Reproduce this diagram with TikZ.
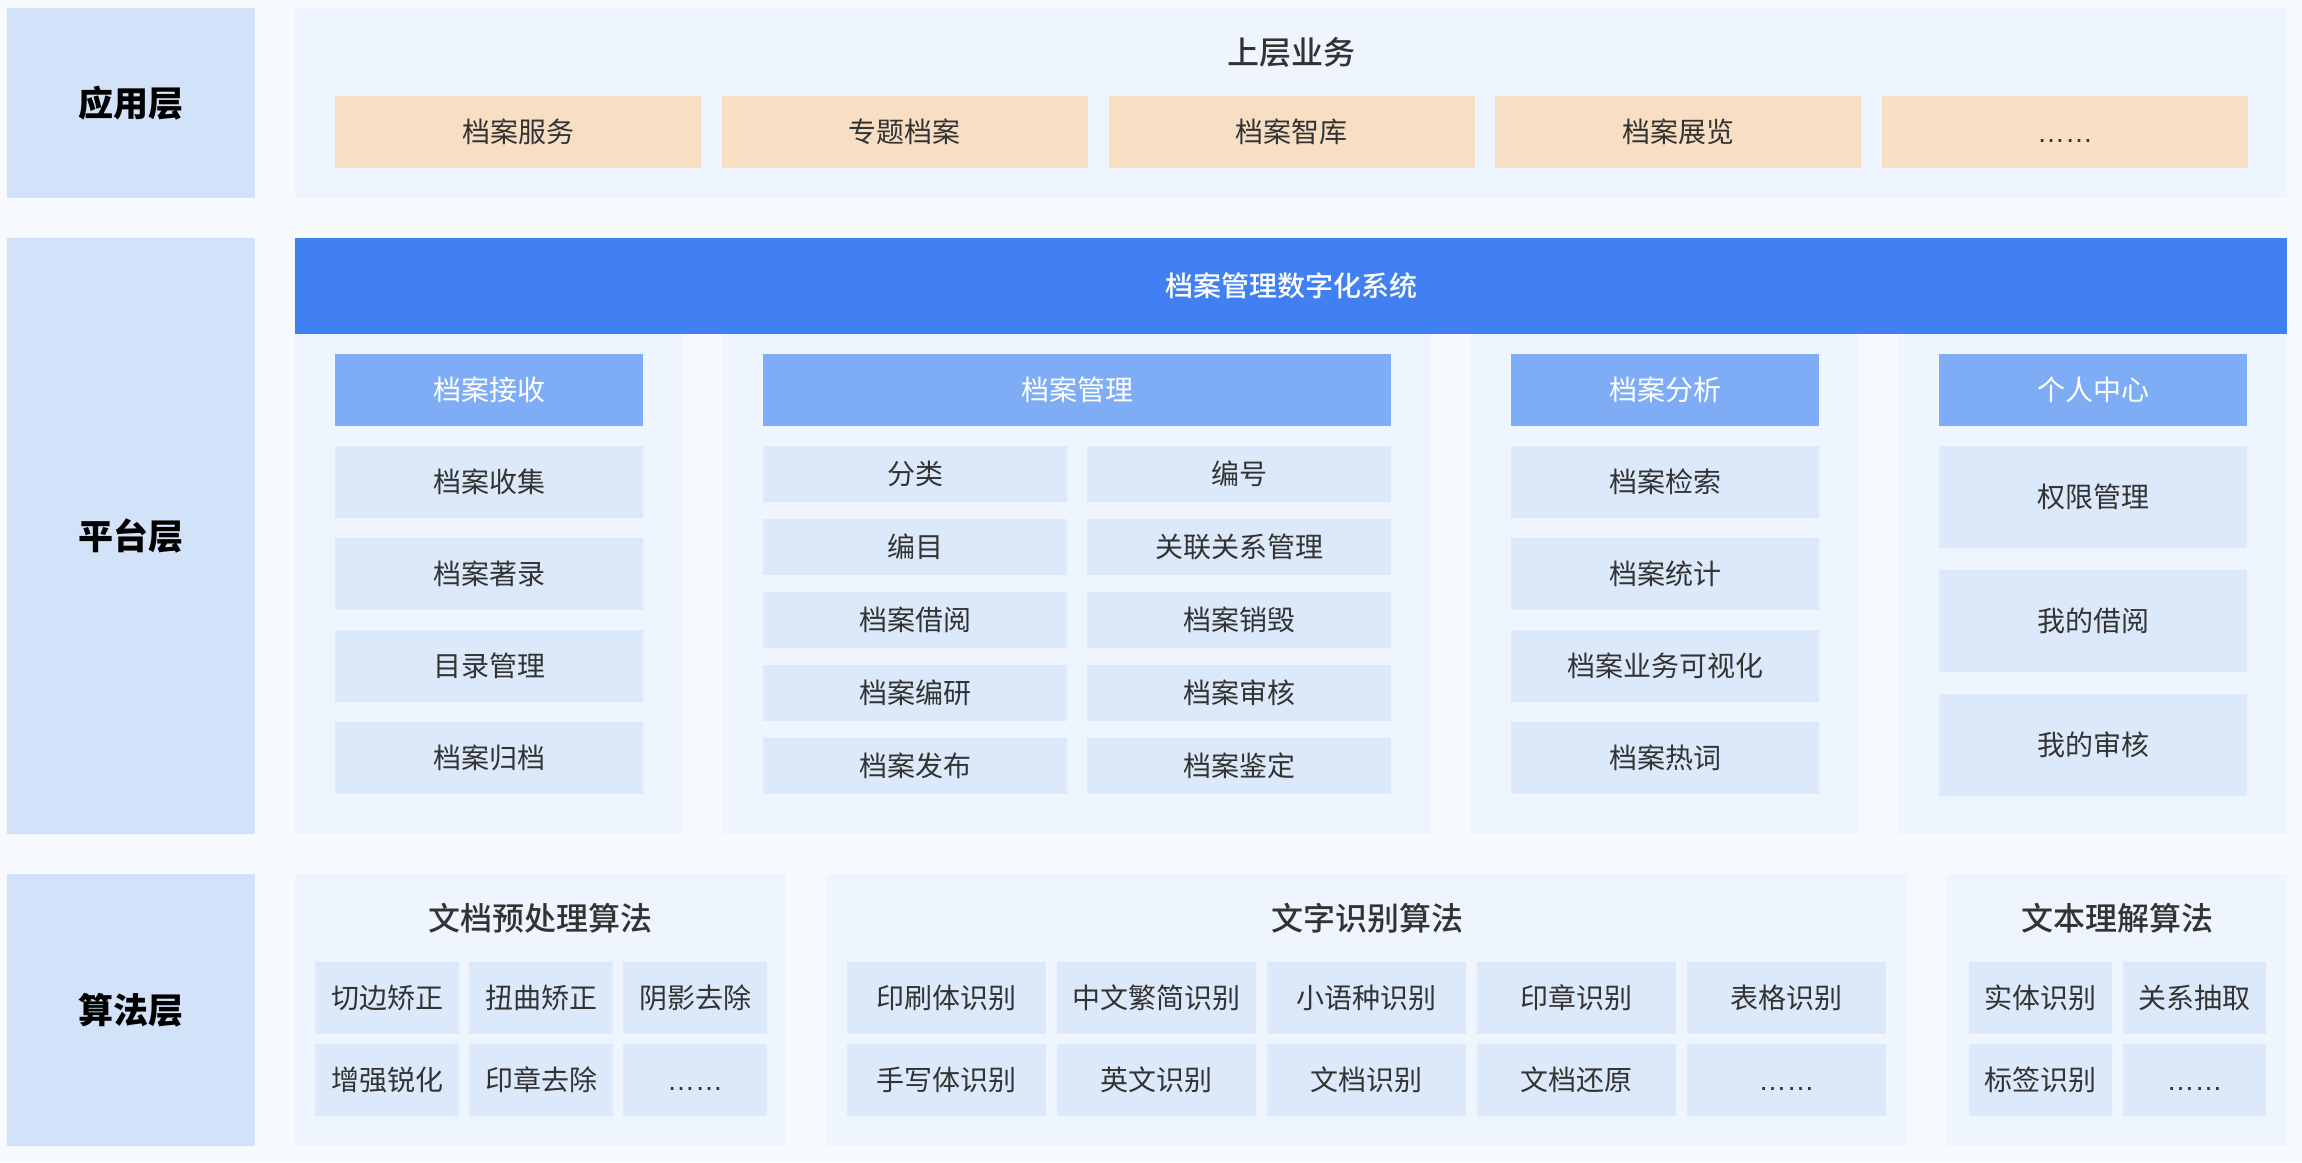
\documentclass[tikz,border=0pt]{standalone}
\usepackage{fontspec}
\setmainfont{Noto Sans CJK SC}
\newfontfamily\titlefont{Noto Sans CJK SC}[UprightFont={* Medium}]
\newfontfamily\dotfont{Liberation Sans}
\definecolor{PageBg}{HTML}{F6FAFE}
\definecolor{LayerBlue}{HTML}{D2E2F9}
\definecolor{PanelBlue}{HTML}{EEF5FE}
\definecolor{BizOrange}{HTML}{F8DFC4}
\definecolor{SysBlue}{HTML}{4180F2}
\definecolor{HeadBlue}{HTML}{7FADF5}
\definecolor{ItemBlue}{HTML}{DCE9FA}
\definecolor{TextGray}{HTML}{333333}
\newcommand{\moredots}{{\vphantom{档}\dotfont ……}}
\tikzset{
  sz/.style 2 args={minimum width=#1*0.5pt, minimum height=#2*0.5pt},
  cell/.style={inner sep=0pt, outer sep=0pt, anchor=north west, text=TextGray, font=\fontsize{14}{16}\selectfont},
  layerbox/.style={cell, fill=LayerBlue, text=black, font=\fontsize{17.5}{20}\selectfont\bfseries},
  panelbox/.style={cell, fill=PanelBlue},
  bizbox/.style={cell, fill=BizOrange},
  sysbar/.style={cell, fill=SysBlue, text=white, font=\fontsize{14}{16}\selectfont\titlefont},
  subhead/.style={cell, fill=HeadBlue, text=white},
  itembox/.style={cell, fill=ItemBlue},
  paneltitle/.style={inner sep=0pt, text=TextGray, font=\fontsize{16}{18}\selectfont\titlefont},
}

\begin{document}
\begin{tikzpicture}[x=0.5pt, y=-0.5pt]
    \fill[PageBg] (0,0) rectangle (2302,1162);
    \useasboundingbox (0,0) rectangle (2302,1162);

    % layers
    \node[layerbox, sz={248}{190}] (app) at (7,8) {应用层};
    \node[layerbox, sz={248}{596}] (plat) at (7,238) {平台层};
    \node[layerbox, sz={248}{272}] (algo) at (7,874) {算法层};

    % application layer
    \node[panelbox, sz={1992}{190}] (bizpanel) at (295,8) {};
    \node[paneltitle] (biztitle) at (1291,52) {上层业务};
    \foreach \t [count=\i from 0] in {档案服务,专题档案,档案智库,档案展览,\moredots}
        \node[bizbox, sz={366}{72}] (biz\i) at ({335+386.8*\i},96) {\t};

    % platform layer
    \node[sysbar, sz={1992}{96}] (sys) at (295,238) {档案管理数字化系统};
    \node[panelbox, sz={388}{500}] (recvpanel) at (295,334) {};
    \node[panelbox, sz={708}{500}] (mgmtpanel) at (723,334) {};
    \node[panelbox, sz={388}{500}] (anapanel) at (1471,334) {};
    \node[panelbox, sz={388}{500}] (userpanel) at (1899,334) {};

    \node[subhead, sz={308}{72}] (recv) at (335,354) {档案接收};
    \node[subhead, sz={628}{72}] (mgmt) at (763,354) {档案管理};
    \node[subhead, sz={308}{72}] (ana) at (1511,354) {档案分析};
    \node[subhead, sz={308}{72}] (user) at (1939,354) {个人中心};

    \foreach \t [count=\i from 0] in {档案收集,档案著录,目录管理,档案归档}
        \node[itembox, sz={308}{72}] (recv\i) at (335,{446+92*\i}) {\t};
    \foreach \t [count=\i from 0] in {分类,编目,档案借阅,档案编研,档案发布}
        \node[itembox, sz={304}{56}] (mgmtl\i) at (763,{446+73*\i}) {\t};
    \foreach \t [count=\i from 0] in {编号,关联关系管理,档案销毁,档案审核,档案鉴定}
        \node[itembox, sz={304}{56}] (mgmtr\i) at (1087,{446+73*\i}) {\t};
    \foreach \t [count=\i from 0] in {档案检索,档案统计,档案业务可视化,档案热词}
        \node[itembox, sz={308}{72}] (ana\i) at (1511,{446+92*\i}) {\t};
    \foreach \t [count=\i from 0] in {权限管理,我的借阅,我的审核}
        \node[itembox, sz={308}{102}] (user\i) at (1939,{446+124*\i}) {\t};

    % algorithm layer
    \node[panelbox, sz={491}{272}] (prepanel) at (295,874) {};
    \node[panelbox, sz={1080}{272}] (ocrpanel) at (827,874) {};
    \node[panelbox, sz={340}{272}] (nlppanel) at (1947,874) {};
    \node[paneltitle] (pretitle) at (540,918) {文档预处理算法};
    \node[paneltitle] (ocrtitle) at (1367,918) {文字识别算法};
    \node[paneltitle] (nlptitle) at (2117,918) {文本理解算法};

    \foreach \t [count=\i from 0] in {切边矫正,扭曲矫正,阴影去除}
        \node[itembox, sz={144}{72}] (prea\i) at ({315+154*\i},962) {\t};
    \foreach \t [count=\i from 0] in {增强锐化,印章去除,\moredots}
        \node[itembox, sz={144}{72}] (preb\i) at ({315+154*\i},1044) {\t};
    \foreach \t [count=\i from 0] in {印刷体识别,中文繁简识别,小语种识别,印章识别,表格识别}
        \node[itembox, sz={199}{72}] (ocra\i) at ({847+210*\i},962) {\t};
    \foreach \t [count=\i from 0] in {手写体识别,英文识别,文档识别,文档还原,\moredots}
        \node[itembox, sz={199}{72}] (ocrb\i) at ({847+210*\i},1044) {\t};
    \foreach \t [count=\i from 0] in {实体识别,关系抽取}
        \node[itembox, sz={143}{72}] (nlpa\i) at ({1969+154*\i},962) {\t};
    \foreach \t [count=\i from 0] in {标签识别,\moredots}
        \node[itembox, sz={143}{72}] (nlpb\i) at ({1969+154*\i},1044) {\t};
\end{tikzpicture}
\end{document}
